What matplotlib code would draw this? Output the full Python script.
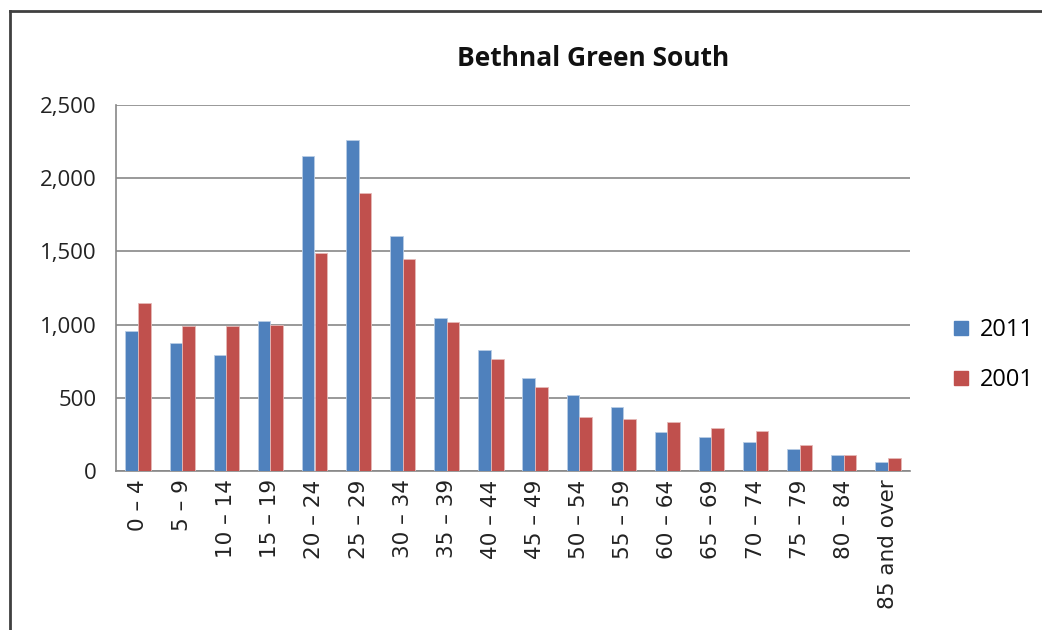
import numpy as np
import matplotlib.pyplot as plt
from matplotlib.lines import Line2D

age_groups = ['0 – 4', '5 – 9', '10 – 14', '15 – 19', '20 – 24', '25 – 29', '30 – 34',
              '35 – 39', '40 – 44', '45 – 49', '50 – 54', '55 – 59', '60 – 64', '65 – 69',
              '70 – 74', '75 – 79', '80 – 84', '85 and over']
pop_2011 = [956, 876, 790, 1027, 2154, 2259, 1603, 1043, 826, 633, 517, 439, 264, 230, 196, 150, 107, 64]
pop_2001 = [1148, 993, 993, 999, 1489, 1901, 1446, 1018, 765, 572, 371, 353, 333, 292, 273, 175, 107, 89]

blue = '#4F81BD'
red = '#C0504D'
grid_col = '#878787'

fig = plt.figure(figsize=(10.42, 6.3), dpi=100)
ax = fig.add_axes([116/1042, 1 - 471/630, 794/1042, 366/630])

x = np.arange(len(age_groups))
w = 0.286
ax.bar(x - w/2, pop_2011, width=w, color=blue, edgecolor='#B9CDE5', linewidth=0.6, label='2011', zorder=3)
ax.bar(x + w/2, pop_2001, width=w, color=red, edgecolor='#E6B9B8', linewidth=0.6, label='2001', zorder=3)

ax.set_xlim(-0.5, len(age_groups) - 0.5)
ax.set_ylim(0, 2500)
ax.set_yticks(np.arange(0, 2501, 500))
ax.set_yticklabels([f'{v:,}' for v in range(0, 2501, 500)], fontsize=16, color='#222222',
                   family='Open Sans')
ax.set_xticks(x)
ax.set_xticklabels(age_groups, rotation=90, fontsize=15.5, color='#222222', family='DejaVu Sans')
ax.tick_params(axis='y', length=0, pad=14)
ax.tick_params(axis='x', length=0, pad=6)

ax.yaxis.grid(True, color=grid_col, linewidth=1.2, zorder=0)
for side in ['top', 'right']:
    ax.spines[side].set_visible(False)
for side in ['left', 'bottom']:
    ax.spines[side].set_color(grid_col)
    ax.spines[side].set_linewidth(1.2)

fig.text(593/1042, 1 - 58/630, 'Bethnal Green South', ha='center', va='center',
         fontsize=19, fontweight='bold', family='Open Sans', color='#111111')

handles = [Line2D([], [], marker='s', linestyle='', markersize=10, color=blue),
           Line2D([], [], marker='s', linestyle='', markersize=10, color=red)]
fig.legend(handles, ['2011', '2001'], loc='center left', bbox_to_anchor=(928/1042, 1 - 355/630),
           frameon=False, handletextpad=0.3, labelspacing=1.1, handlelength=1.0,
           prop={'family': 'Open Sans', 'size': 17})

fig.add_artist(Line2D([10/1042, 10/1042], [0, 1 - 11/630], transform=fig.transFigure,
                      color='#404040', linewidth=2))
fig.add_artist(Line2D([10/1042, 1], [1 - 11/630, 1 - 11/630], transform=fig.transFigure,
                      color='#404040', linewidth=2))

fig.savefig('out.png', dpi=100)
